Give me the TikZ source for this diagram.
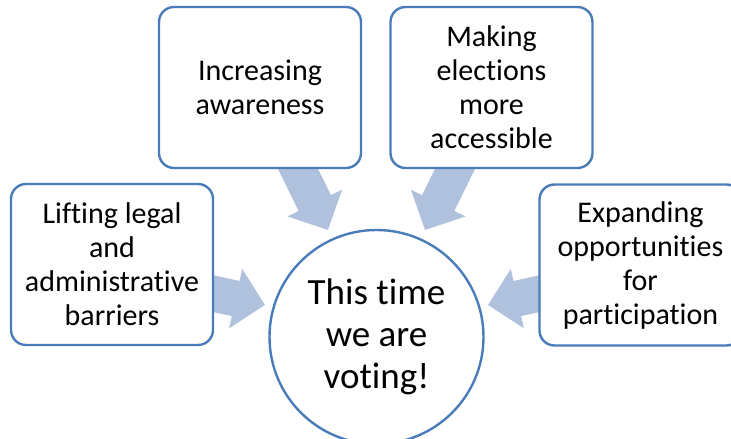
\documentclass[tikz,border=0pt]{standalone}
\usepackage{fontspec}
\setmainfont{Carlito}[Ligatures={NoCommon}]
\usetikzlibrary{arrows.meta}
\definecolor{edgeblue}{HTML}{4A7CB9}
\definecolor{arrowblue}{HTML}{B0C1DD}
\begin{document}
\begin{tikzpicture}[x=1pt,y=-1pt,
  box/.style={draw=edgeblue, line width=2.4pt, fill=white, rounded corners=15pt,
    minimum width=202pt, minimum height=161pt, align=center, inner sep=0pt,
    font=\fontsize{30}{34}\selectfont, text=black},
  hub/.style={draw=edgeblue, line width=2.4pt, fill=white, circle, minimum size=214pt,
    align=center, inner sep=0pt, font=\fontsize{37}{42}\selectfont, text=black},
  blockarrow/.style={draw=arrowblue, line width=36pt,
    -{Triangle[width=59pt,length=30pt]}, arrowblue}]
\useasboundingbox (0,0) rectangle (731,439);
\clip (0,0) rectangle (731,439);
% arrow coordinates
\coordinate (sL) at (200,290.7);
\coordinate (tL) at (265,305);
\coordinate (sTL) at (291.7,156);
\coordinate (tTL) at (328,230);
\coordinate (sTR) at (461.3,156);
\coordinate (tTR) at (425,230);
\coordinate (sR) at (553,290.7);
\coordinate (tR) at (488,305);
\draw[blockarrow] (sL) -- (tL);
\draw[blockarrow] (sTL) -- (tTL);
\draw[blockarrow] (sTR) -- (tTR);
\draw[blockarrow] (sR) -- (tR);
% boxes
\node[box] (left) at (112,264.5) {Lifting legal\\and\\administrative\\barriers};
\node[box] (topleft) at (260,87.5) {Increasing\\awareness};
\node[box] (topright) at (491.5,87.5) {Making\\elections\\more\\accessible};
\node[box] (right) at (640.5,265) {Expanding\\opportunities\\for\\participation};
\node[hub] (hub) at (376.5,337) {This time\\we are\\voting!};
\end{tikzpicture}
\end{document}
